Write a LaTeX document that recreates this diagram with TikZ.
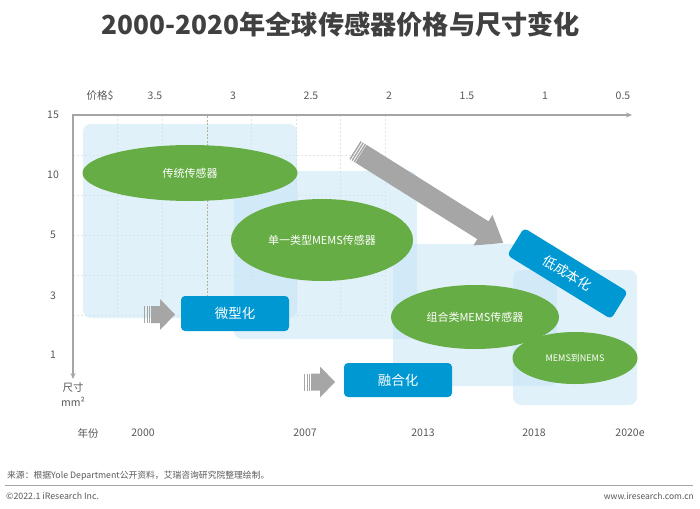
\documentclass[tikz,border=0pt]{standalone}
\usepackage{fontspec}
\setmainfont{Noto Sans CJK SC}
\usetikzlibrary{shapes.geometric,arrows.meta}
\definecolor{grn}{RGB}{103,173,69}
\definecolor{blu}{RGB}{0,152,211}
\definecolor{arr}{RGB}{166,166,166}
\definecolor{txt}{RGB}{89,89,89}
\definecolor{ttl}{RGB}{64,64,64}
\definecolor{lb}{RGB}{200,230,246}
\definecolor{axisc}{RGB}{165,165,165}
\definecolor{gridc}{RGB}{228,228,228}
\definecolor{oliv}{RGB}{180,180,150}
\begin{document}
\begin{tikzpicture}[x=1pt,y=-1pt,
  lbl/.style={text=txt,font=\fontsize{10.5}{12}\selectfont,inner sep=0},
  small/.style={text=txt,font=\fontsize{8.8}{10}\selectfont,inner sep=0},
  zone/.style={fill=lb,fill opacity=0.55,rounded corners=8pt},
  blob/.style={ellipse,fill=grn,text=white,inner sep=0,font=\fontsize{11}{12}\selectfont},
  tag/.style={fill=blu,text=white,rounded corners=4pt,inner sep=0,font=\fontsize{13.5}{16}\selectfont},
  gridline/.style={gridc,line width=0.6pt,dash pattern=on 2pt off 2pt},
  pics/blockarrow/.style n args={4}{code={
    \fill[arr] (7,-#2) -- ({#1-#4},-#2) -- ({#1-#4},-#3) -- (#1,0) -- ({#1-#4},#3) -- ({#1-#4},#2) -- (7,#2) -- cycle;
    \fill[arr] (0,-#2) rectangle (1.4,#2);
    \fill[arr] (2.5,-#2) rectangle (3.9,#2);
    \fill[arr] (5,-#2) rectangle (6.4,#2);
  }},
]
\useasboundingbox (0,0) rectangle (700,508);
\fill[white] (0,0) rectangle (700,508);

% title
\node[font=\fontsize{26.2}{28}\selectfont\bfseries,text=ttl,inner sep=0] (title) at (341,24) {2000-2020年全球传感器价格与尺寸变化};

% grid
\foreach \x in {117,162,251,296,340,385} \draw[gridline] (\x,115) -- (\x,315);
\foreach \y in {155,195,235,275,315} \draw[gridline] (73,\y) -- (385,\y);

% zones
\fill[zone] (83,124) rectangle (297,318);
\fill[zone] (234,171) rectangle (417,339);
\fill[zone] (393,244) rectangle (557,386);
\fill[zone] (513,270) rectangle (637,405);

% axes
\coordinate (o) at (73,115);
\coordinate (xe) at (632,115);
\coordinate (ye) at (73,379);
\draw[axisc,line width=1.4pt,{Stealth[length=6pt,width=5pt]}-{Stealth[length=6pt,width=5pt]}] (ye) -- (o) -- (xe);

% top labels
\node[lbl] (p0) at (100,96) {价格\$};
\node[lbl] (p1) at (155,96) {3.5};
\node[lbl] (p2) at (233,96) {3};
\node[lbl] (p3) at (311,96) {2.5};
\node[lbl] (p4) at (389,96) {2};
\node[lbl] (p5) at (467,96) {1.5};
\node[lbl] (p6) at (545,96) {1};
\node[lbl] (p7) at (623,96) {0.5};

% left labels
\node[lbl] (s15) at (53,115) {15};
\node[lbl] (s10) at (53,175) {10};
\node[lbl] (s5) at (53,235) {5};
\node[lbl] (s3) at (53,296) {3};
\node[lbl] (s1) at (53,355) {1};
\node[lbl] (su1) at (73,388) {尺寸};
\node[lbl] (su2) at (73,402) {mm²};

% bottom labels
\node[lbl] (y0) at (88,433) {年份};
\node[lbl] (y1) at (143,433) {2000};
\node[lbl] (y2) at (305,433) {2007};
\node[lbl] (y3) at (423,433) {2013};
\node[lbl] (y4) at (534,433) {2018};
\node[lbl] (y5) at (630,433) {2020e};

% tags
\node[tag,minimum width=108,minimum height=35] (t1) at (235,313.5) {微型化};
\node[tag,minimum width=108,minimum height=34] (t2) at (398,380) {融合化};

% olive dashed line
\coordinate (dtop) at (207,116);
\draw[oliv,line width=1pt,dash pattern=on 2pt off 1.5pt] (dtop) -- (dtop |- t1.north);

% ellipses
\node[blob,minimum width=215,minimum height=56] (e1) at (190,173) {传统传感器};
\node[blob,minimum width=182,minimum height=82] (e2) at (322,240) {单一类型MEMS传感器};
\node[blob,minimum width=168,minimum height=64] (e3) at (475,317) {组合类MEMS传感器};
\node[blob,minimum width=125,minimum height=52,font=\fontsize{9}{10}\selectfont] (e4) at (575,358) {MEMS到NEMS};

\node[tag,minimum width=122,minimum height=32,rotate=-31.6] (t3) at (567.5,273.5) {低成本化};

% arrows
\pic[rotate=-32.1] at (355,150) {blockarrow={175}{10.5}{18}{24}};
\pic at (144,314.5) {blockarrow={31}{8.5}{15.5}{15}};
\pic at (304,382) {blockarrow={31}{8.5}{15.5}{15}};

% footer
\node[small,anchor=west] (src) at (7,476) {来源：根据Yole Department公开资料，艾瑞咨询研究院整理绘制。};
\coordinate (la) at (5,485);
\coordinate (lb) at (693,485);
\draw[axisc,line width=1pt] (la) -- (lb);
\node[small,anchor=west] (copy) at (6,496) {©2022.1 iResearch Inc.};
\node[small,anchor=east,font=\fontsize{8.5}{10}\selectfont] (web) at (694,496) {www.iresearch.com.cn};
\end{tikzpicture}
\end{document}
